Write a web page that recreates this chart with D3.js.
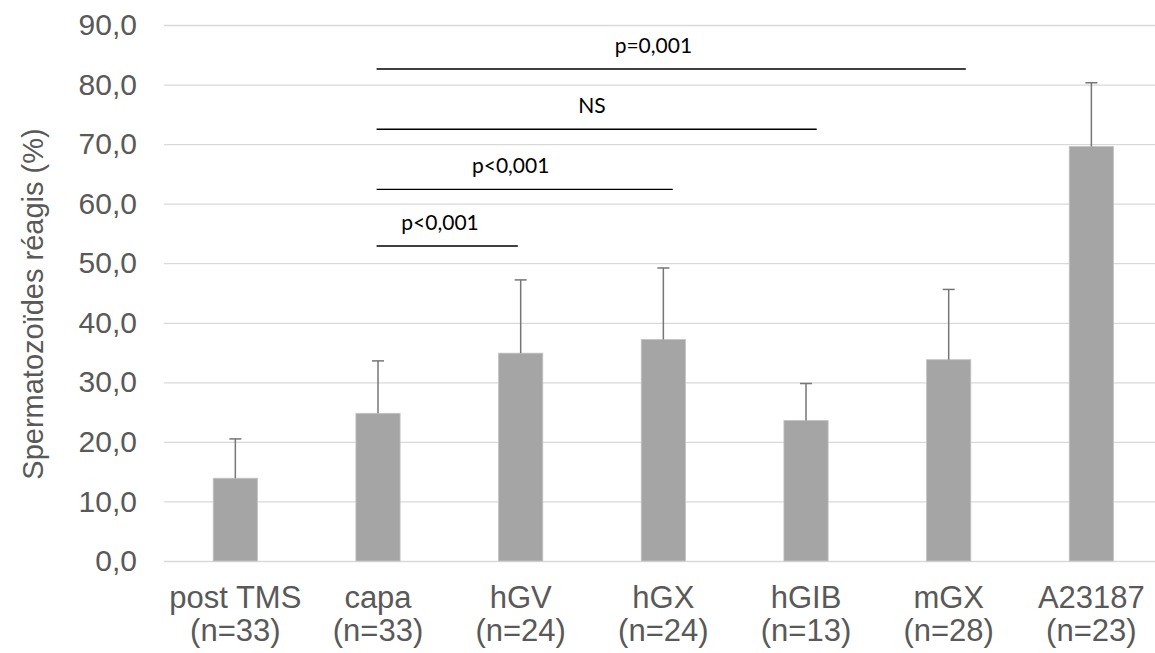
<!DOCTYPE html>
<html>
<head>
<meta charset="utf-8">
<script src="https://cdn.jsdelivr.net/npm/d3@7"></script>
<style>
  html, body { margin: 0; padding: 0; background: #fff; }
  svg { display: block; }
</style>
</head>
<body>
<svg id="chart" width="1155" height="653"></svg>
<script>
// ---- data ----
const categories = ["post TMS", "capa", "hGV", "hGX", "hGIB", "mGX", "A23187"];
const sampleSizes = ["(n=33)", "(n=33)", "(n=24)", "(n=24)", "(n=13)", "(n=28)", "(n=23)"];
const means = [13.9, 24.8, 34.9, 37.2, 23.6, 33.8, 69.6];
const errorTops = [20.5, 33.6, 47.2, 49.2, 29.8, 45.6, 80.3];
const yTicks = [0, 10, 20, 30, 40, 50, 60, 70, 80, 90];
const yTitle = "Spermatozoïdes réagis (%)";

// significance brackets (positions in category-index units, level in y units)
const sigLabels = ["p=0,001", "NS", "p<0,001", "p<0,001"];
const sigLevel = [82.6, 72.5, 62.4, 52.9];
const sigStart = [0.99, 0.99, 0.99, 0.99];
const sigEnd = [5.12, 4.075, 3.066, 1.98];
const sigLabelPos = [2.93, 2.50, 1.93, 1.435];

// ---- layout ----
const svg = d3.select("#chart");
const plotLeft = 164, plotRight = 1162.7, plotTop = 25, plotBottom = 561;

const y = d3.scaleLinear().domain([0, 90]).range([plotBottom, plotTop]);
const x = d3.scaleBand().domain(categories).range([plotLeft, plotRight])
  .paddingInner(0.69).paddingOuter(0.345);
const step = x.step();
const xi = d3.scaleLinear().domain([0, 1])
  .range([x(categories[0]) + x.bandwidth() / 2, x(categories[0]) + x.bandwidth() / 2 + step]);

const fmt = v => d3.format(".1f")(v).replace(".", ",");

// gridlines
const yAxis = d3.axisLeft(y).tickValues(yTicks).tickFormat(fmt)
  .tickSize(-(plotRight - plotLeft)).tickPadding(27);
const gy = svg.append("g").attr("transform", `translate(${plotLeft},0)`).call(yAxis);
gy.select(".domain").remove();
gy.selectAll(".tick line").attr("stroke", "#d9d9d9").attr("stroke-width", 1.3);
gy.selectAll(".tick text")
  .attr("fill", "#595959")
  .style("font-family", "'Liberation Sans', Arial, sans-serif")
  .style("font-size", "30px");

// bars
svg.append("g").selectAll("rect").data(categories).join("rect")
  .attr("x", d => x(d))
  .attr("y", (d, i) => y(means[i]))
  .attr("width", x.bandwidth())
  .attr("height", (d, i) => y(0) - y(means[i]))
  .attr("fill", "#a5a5a5")
  .attr("stroke", "#c4c4c4")
  .attr("stroke-width", 0.8);

// error bars
const eg = svg.append("g");
categories.forEach((c, i) => {
  const cx = x(c) + x.bandwidth() / 2;
  eg.append("line").attr("x1", cx).attr("x2", cx)
    .attr("y1", y(means[i])).attr("y2", y(errorTops[i]))
    .attr("stroke", "#767676").attr("stroke-width", 1.5);
  eg.append("line").attr("x1", cx - 6).attr("x2", cx + 6)
    .attr("y1", y(errorTops[i])).attr("y2", y(errorTops[i]))
    .attr("stroke", "#767676").attr("stroke-width", 1.5);
});

// x labels
const xl = svg.append("g")
  .style("font-family", "'Liberation Sans', Arial, sans-serif")
  .style("font-size", "31px")
  .attr("fill", "#595959")
  .attr("text-anchor", "middle");
categories.forEach((c, i) => {
  const cx = x(c) + x.bandwidth() / 2;
  xl.append("text").attr("x", cx).attr("y", 608).text(c);
  xl.append("text").attr("x", cx).attr("y", 641).text(sampleSizes[i]);
});

// y title
svg.append("text")
  .attr("transform", `translate(43,${(plotTop + plotBottom) / 2 + 11}) rotate(-90)`)
  .attr("text-anchor", "middle")
  .attr("fill", "#595959")
  .style("font-family", "'Liberation Sans', Arial, sans-serif")
  .style("font-size", "29px")
  .text(yTitle);

// significance brackets
const sg = svg.append("g");
sigLabels.forEach((lab, i) => {
  const ly = y(sigLevel[i]);
  sg.append("line")
    .attr("x1", xi(sigStart[i])).attr("x2", xi(sigEnd[i]))
    .attr("y1", ly).attr("y2", ly)
    .attr("stroke", "#000").attr("stroke-width", 1.4);
  sg.append("text")
    .attr("x", xi(sigLabelPos[i])).attr("y", ly - 16)
    .attr("text-anchor", "middle")
    .attr("fill", "#000")
    .style("font-family", "Lato, 'Open Sans', sans-serif")
    .style("font-size", "21px")
    .text(lab);
});
</script>
</body>
</html>
